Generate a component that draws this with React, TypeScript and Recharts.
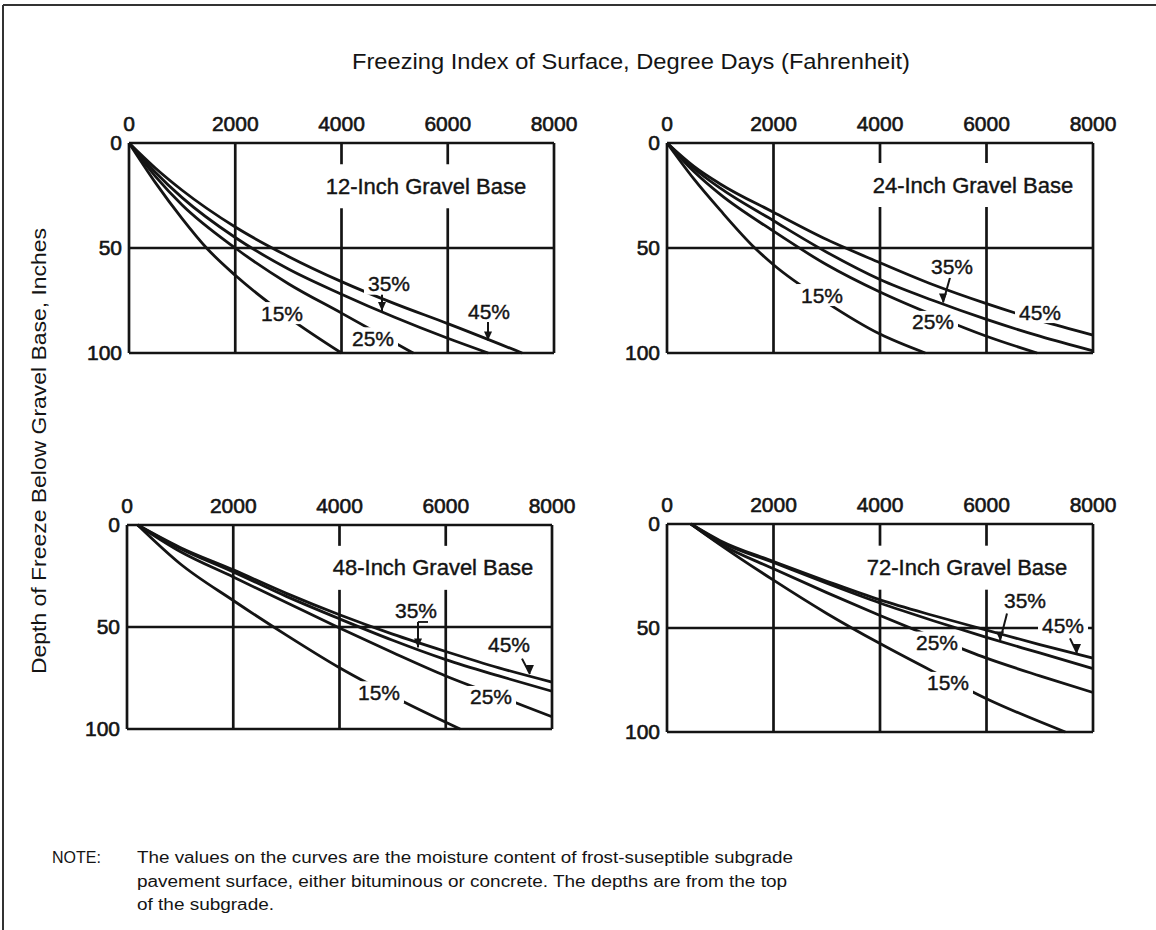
import React from 'react';
import { LineChart, Line, XAxis, YAxis, CartesianGrid, ReferenceDot, ReferenceLine } from 'recharts';

const FONT = '"Liberation Sans", Arial, Helvetica, sans-serif';
const INK = '#141414';

const freezingTicks = [0, 2000, 4000, 6000, 8000];
const depthTicks = [0, 50, 100];

// curves: [freezing index, depth of freeze]
// 12-inch gravel base
const b12m15 = [[0, 0], [500, 19], [1000, 36], [1460, 50], [2000, 63], [3000, 83], [4000, 100]];
const b12m25 = [[0, 0], [500, 16], [1000, 29.5], [2000, 50], [3000, 67], [4000, 81], [5350, 100]];
const b12m35 = [[0, 0], [500, 14], [1000, 26], [2000, 45], [3000, 60], [4000, 72], [5000, 83], [6000, 93], [6760, 100]];
const b12m45 = [[0, 0], [500, 12], [1000, 22.5], [2000, 40], [3000, 54], [4000, 66], [5000, 76.5], [6000, 86], [7400, 100]];
// 24-inch gravel base
const b24m15 = [[0, 0], [500, 17], [1000, 32], [1650, 50], [2000, 58], [3000, 76], [4000, 91], [4850, 100]];
const b24m25 = [[0, 0], [500, 13.5], [1000, 24.5], [2000, 42], [3000, 58], [4000, 71], [5000, 82], [6000, 92], [6950, 100]];
const b24m35 = [[0, 0], [500, 12], [1000, 21.5], [2000, 37], [3000, 52], [4000, 65], [5000, 75], [6000, 84], [7000, 92], [8000, 99]];
const b24m45 = [[0, 0], [500, 11], [1000, 19.5], [2000, 33], [3000, 46], [4000, 57], [5000, 67.5], [6000, 76.5], [7000, 84.5], [8000, 91.5]];
// 48-inch gravel base
const b48m15 = [[200, 0], [1000, 19], [2000, 37], [3000, 54], [4000, 70], [5233, 87], [6270, 100]];
const b48m25 = [[200, 0], [1000, 13], [2000, 25.5], [3000, 38], [4000, 50.5], [5000, 62.5], [6000, 74], [7000, 84], [8000, 94]];
const b48m35 = [[200, 0], [1000, 11.5], [2000, 23], [3000, 35], [4000, 46], [5000, 56.5], [6000, 66], [7000, 74], [8000, 81.5]];
const b48m45 = [[200, 0], [1000, 11], [2000, 22], [3000, 33.5], [4000, 44], [5000, 53.5], [6000, 62], [7000, 70], [8000, 77]];
// 72-inch gravel base
const b72m15 = [[450, 0], [1000, 10], [2000, 27], [3000, 43], [4000, 57.5], [5000, 71], [6000, 84], [7480, 100]];
const b72m25 = [[450, 0], [1000, 9.5], [2000, 21.5], [3000, 33], [4000, 44], [5000, 54.5], [6000, 64.5], [7000, 73], [8000, 81]];
const b72m35 = [[450, 0], [1000, 8.5], [2000, 18.5], [3000, 28.5], [4000, 38], [5000, 46.5], [6000, 54.5], [7000, 62], [8000, 69.5]];
const b72m45 = [[450, 0], [1000, 8], [2000, 18], [3000, 27.5], [4000, 36.5], [5000, 44], [6000, 51], [7000, 58], [8000, 64.5]];

// curve labels: [text, freezing index, depth]
const b12Labels = [['15%', 2880, 81], ['25%', 4593, 93], ['35%', 4894, 67], ['45%', 6776, 80]];
const b24Labels = [['15%', 2911, 72.4], ['25%', 4995, 85.2], ['35%', 5352, 59], ['45%', 7005, 80.5]];
const b48Labels = [['15%', 4743, 82], ['25%', 6852, 84.3], ['35%', 5440, 41.7], ['45%', 7190, 58.8]];
const b72Labels = [['35%', 6723, 37], ['45%', 7437, 48.6], ['25%', 5070, 57], ['15%', 5277, 76.4]];

// leader arrows as polylines
const b12Arrows = [[[4762, 71], [4762, 80]], [[6758, 83.5], [6758, 94]]];
const b24Arrows = [[[5315, 64], [5183, 76]]];
const b48Arrows = [[[5666, 47.5], [5478, 47.5], [5478, 60]], [[7435, 65.5], [7585, 73]]];
const b72Arrows = [[[6385, 43], [6254, 56]], [[7568, 55], [7700, 62]]];

const panels = [
  { title: '12-Inch Gravel Base', titleAt: [5590, 20.6], series: [b12m15, b12m25, b12m35, b12m45], labels: b12Labels, arrows: b12Arrows, plot: { x: 129, y: 143, w: 425, h: 210 } },
  { title: '24-Inch Gravel Base', titleAt: [5746, 20], series: [b24m15, b24m25, b24m35, b24m45], labels: b24Labels, arrows: b24Arrows, plot: { x: 667, y: 143, w: 426, h: 210 } },
  { title: '48-Inch Gravel Base', titleAt: [5760, 21], series: [b48m15, b48m25, b48m35, b48m45], labels: b48Labels, arrows: b48Arrows, plot: { x: 127, y: 525, w: 425, h: 204 } },
  { title: '72-Inch Gravel Base', titleAt: [5634, 21], series: [b72m15, b72m25, b72m35, b72m45], labels: b72Labels, arrows: b72Arrows, plot: { x: 667, y: 524, w: 426, h: 208 } },
];

const noteLines = [
  'The values on the curves are the moisture content of frost-suseptible subgrade',
  'pavement surface, either bituminous or concrete.  The depths are from the top',
  'of the subgrade.',
];
const noteWidths = [656, 650, 137];

const tickStyle = { fontSize: 21, fill: INK, fontFamily: FONT, stroke: INK, strokeWidth: 0.6 };

const boxLabel = (text: string, w: number, h: number, size: number) => (props: any) => {
  const { cx, cy } = props;
  return (
    <g>
      <rect x={cx - w / 2} y={cy - h / 2} width={w} height={h} fill="#fff" />
      <text
        x={cx}
        y={cy}
        textAnchor="middle"
        dominantBaseline="central"
        fontSize={size}
        fontFamily={FONT}
        fill={INK}
        stroke={INK}
        strokeWidth={0.4}
      >
        {text}
      </text>
    </g>
  );
};

const arrowHead = (props: any) => {
  const { cx, cy } = props;
  return <polygon points={`${cx},${cy} ${cx - 4},${cy - 9} ${cx + 4},${cy - 9}`} fill={INK} />;
};

function Panel({ title, titleAt, series, labels, arrows, plot }) {
  return (
    <div style={{ position: 'absolute', left: plot.x - 70, top: plot.y - 50 }}>
      <LineChart width={plot.w + 100} height={plot.h + 70} margin={{ top: 20, right: 30, bottom: 20, left: 20 }}>
        <CartesianGrid stroke={INK} strokeWidth={2.7} />
        <XAxis
          type="number"
          dataKey="f"
          orientation="top"
          domain={[0, 8000]}
          ticks={freezingTicks}
          interval={0}
          axisLine={false}
          tickLine={false}
          tickSize={0}
          tickMargin={12}
          height={30}
          tick={tickStyle}
        />
        <YAxis
          type="number"
          domain={[0, 100]}
          reversed
          ticks={depthTicks}
          interval={0}
          axisLine={false}
          tickLine={false}
          tickSize={0}
          tickMargin={7}
          width={50}
          tick={tickStyle}
        />
        <ReferenceDot x={titleAt[0]} y={titleAt[1]} r={0} shape={boxLabel(title, 220, 44, 22)} />
        {series.map((s, i) => (
          <Line
            key={i}
            data={s.map(([f, d]) => ({ f, d }))}
            dataKey="d"
            type="monotone"
            stroke={INK}
            strokeWidth={2.8}
            dot={false}
            activeDot={false}
            isAnimationActive={false}
          />
        ))}
        {labels.map(([t, f, d], i) => (
          <ReferenceDot key={`l${i}`} x={f} y={d} r={0} shape={boxLabel(t, 50, 22, 21)} />
        ))}
        {arrows.map((pts, i) =>
          pts.slice(1).map((p, j) => (
            <ReferenceLine
              key={`a${i}-${j}`}
              segment={[{ x: pts[j][0], y: pts[j][1] }, { x: p[0], y: p[1] }]}
              stroke={INK}
              strokeWidth={2}
            />
          ))
        )}
        {arrows.map((pts, i) => {
          const tip = pts[pts.length - 1];
          return <ReferenceDot key={`h${i}`} x={tip[0]} y={tip[1]} r={0} shape={arrowHead} />;
        })}
      </LineChart>
    </div>
  );
}

export default function App() {
  return (
    <div style={{ position: 'absolute', left: 0, top: 0, width: 1156, height: 930, background: '#fff' }}>
      <svg width={1156} height={930} style={{ position: 'absolute', left: 0, top: 0 }}>
        <line x1={3} y1={5} x2={1156} y2={5} stroke="#333" strokeWidth={2} />
        <line x1={3} y1={5} x2={3} y2={930} stroke="#333" strokeWidth={2} />
        <text x={352} y={69} fontSize={22} fontFamily={FONT} fill={INK} textLength={558} lengthAdjust="spacingAndGlyphs">
          Freezing Index of Surface, Degree  Days (Fahrenheit)
        </text>
        <text
          transform="translate(46,451) rotate(-90)"
          textAnchor="middle"
          fontSize={21}
          fontFamily={FONT}
          fill={INK}
          textLength={446}
          lengthAdjust="spacingAndGlyphs"
        >
          Depth of Freeze Below Gravel Base, Inches
        </text>
        <text x={52} y={863} fontSize={16} fontFamily={FONT} fill={INK}>NOTE:</text>
        {noteLines.map((t, i) => (
          <text key={i} x={137} y={863 + i * 23.5} fontSize={16} fontFamily={FONT} fill={INK} textLength={noteWidths[i]} lengthAdjust="spacingAndGlyphs">
            {t}
          </text>
        ))}
      </svg>
      {panels.map((p) => (
        <Panel key={p.title} {...p} />
      ))}
    </div>
  );
}
